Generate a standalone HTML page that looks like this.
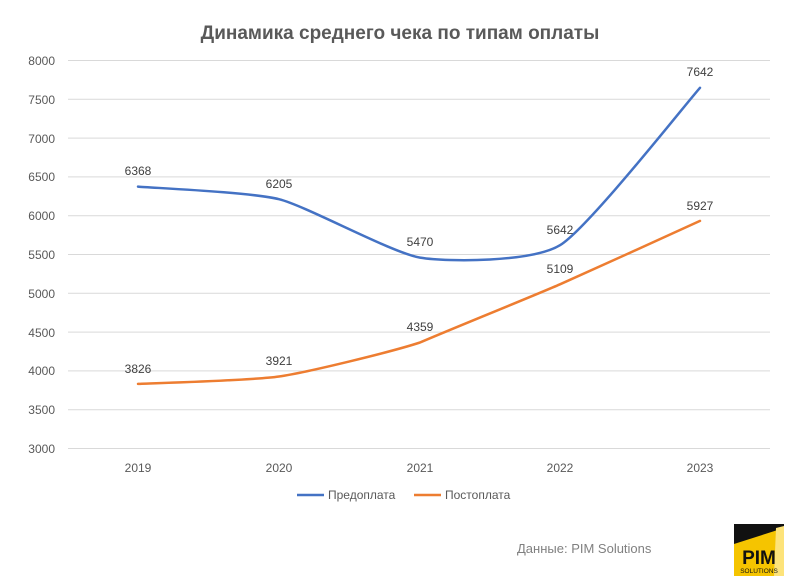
<!DOCTYPE html>
<html><head><meta charset="utf-8"><style>
body{margin:0;background:#fff;}
svg{display:block;font-family:"Liberation Sans","DejaVu Sans",sans-serif;}
</style></head><body>
<svg width="800" height="584" viewBox="0 0 800 584">
<rect width="800" height="584" fill="#fff"/>
<text x="400" y="39" text-anchor="middle" font-size="19" font-weight="bold" fill="#595959">Динамика среднего чека по типам оплаты</text>
<g stroke="#d9d9d9" stroke-width="1">
<line x1="68" x2="770" y1="60.5" y2="60.5"/>
<line x1="68" x2="770" y1="99.3" y2="99.3"/>
<line x1="68" x2="770" y1="138.1" y2="138.1"/>
<line x1="68" x2="770" y1="176.9" y2="176.9"/>
<line x1="68" x2="770" y1="215.7" y2="215.7"/>
<line x1="68" x2="770" y1="254.5" y2="254.5"/>
<line x1="68" x2="770" y1="293.3" y2="293.3"/>
<line x1="68" x2="770" y1="332.1" y2="332.1"/>
<line x1="68" x2="770" y1="370.9" y2="370.9"/>
<line x1="68" x2="770" y1="409.7" y2="409.7"/>
<line x1="68" x2="770" y1="448.5" y2="448.5"/>
</g>
<g font-size="12" fill="#595959" text-anchor="end">
<text x="55" y="65">8000</text><text x="55" y="104">7500</text><text x="55" y="143">7000</text>
<text x="55" y="181">6500</text><text x="55" y="220">6000</text><text x="55" y="259">5500</text>
<text x="55" y="298">5000</text><text x="55" y="337">4500</text><text x="55" y="375">4000</text>
<text x="55" y="414">3500</text><text x="55" y="453">3000</text>
</g>
<g font-size="12" fill="#595959" text-anchor="middle">
<text x="138" y="472">2019</text><text x="279" y="472">2020</text><text x="420" y="472">2021</text>
<text x="560" y="472">2022</text><text x="700" y="472">2023</text>
</g>
<path d="M138,186.6 C152.1,187.9 250.8,192.1 279,199.2 C307.2,206.3 391.9,253 420,257.6 C448.1,262.2 532,262.2 560,245.2 C588,228.2 686,103.5 700,87.8" fill="none" stroke="#4472c4" stroke-width="2.5" stroke-linecap="round"/>
<path d="M138,383.9 C152.1,383.2 250.8,380.6 279,376.5 C307.2,372.4 391.9,351.7 420,342.5 C448.1,330.3 532,296.5 560,284.3 C588,272.1 686,227.2 700,220.9" fill="none" stroke="#ed7d31" stroke-width="2.5" stroke-linecap="round"/>
<g font-size="12" fill="#404040" text-anchor="middle">
<text x="138" y="175">6368</text><text x="279" y="188">6205</text><text x="420" y="246">5470</text>
<text x="560" y="234">5642</text><text x="700" y="76">7642</text>
<text x="138" y="373">3826</text><text x="279" y="365">3921</text><text x="420" y="331">4359</text>
<text x="560" y="273">5109</text><text x="700" y="210">5927</text>
</g>
<line x1="297" x2="324" y1="495" y2="495" stroke="#4472c4" stroke-width="2.5"/>
<text x="328" y="499" font-size="12" fill="#595959">Предоплата</text>
<line x1="414" x2="441" y1="495" y2="495" stroke="#ed7d31" stroke-width="2.5"/>
<text x="445" y="499" font-size="12" fill="#595959">Постоплата</text>
<text x="517" y="553" font-size="13" fill="#808080">Данные: PIM Solutions</text>
<g transform="translate(734,524)">
<rect width="50" height="52" fill="#f5c400"/>
<polygon points="0,0 50,0 50,4 0,20" fill="#111"/>
<polygon points="42,4 50,2 50,52 40,52" fill="#fde37a"/>
<text x="25" y="40" text-anchor="middle" font-size="19" font-weight="bold" fill="#111">PIM</text>
<text x="25" y="49" text-anchor="middle" font-size="6.5" fill="#111">SOLUTIONS</text>
</g>
</svg>
</body></html>
